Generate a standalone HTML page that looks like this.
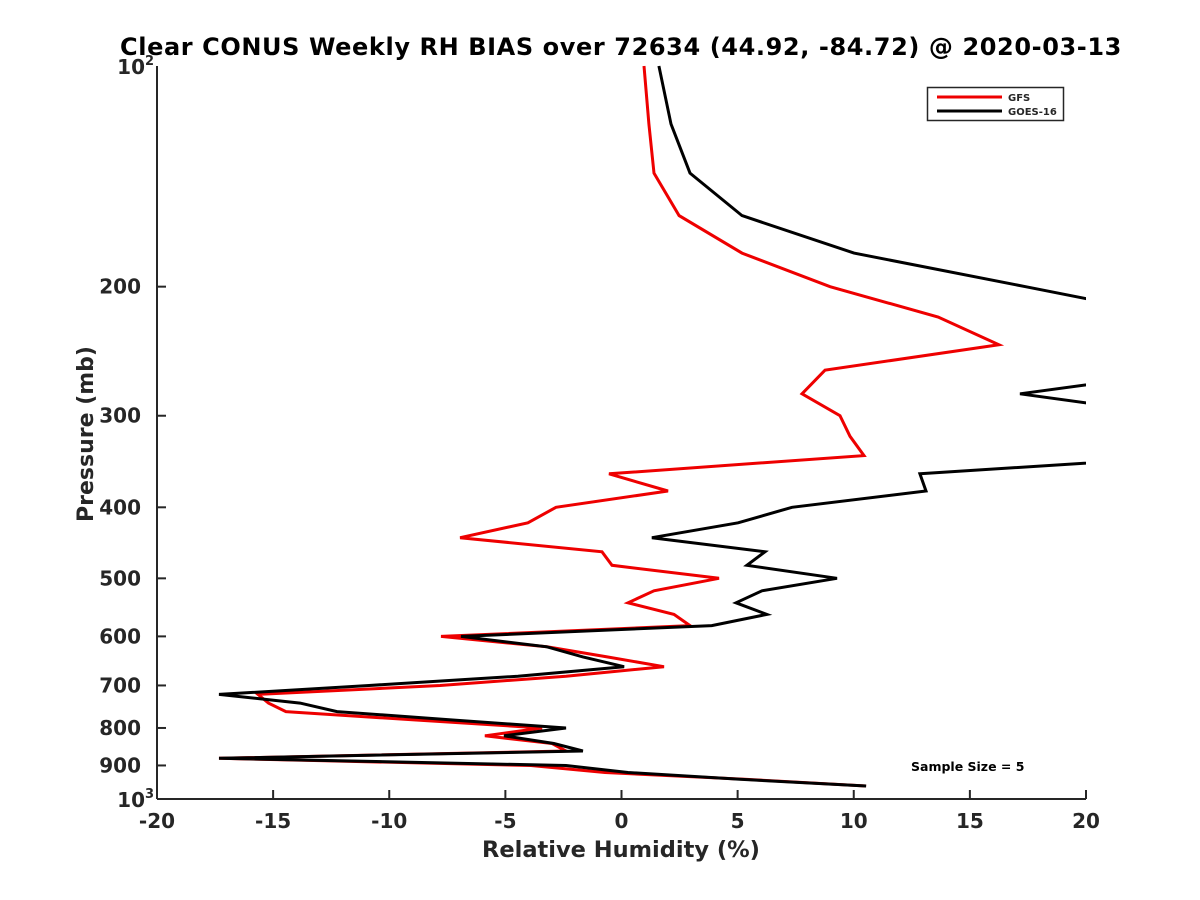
<!DOCTYPE html>
<html><head><meta charset="utf-8"><style>
body{margin:0;background:#fff}
svg{display:block;font-family:"DejaVu Sans","Liberation Sans",sans-serif;font-weight:bold}
</style></head><body>
<svg id="chart" width="1200" height="900" viewBox="0 0 1200 900">
<defs><clipPath id="plotclip"><rect x="157" y="60" width="929" height="745"/></clipPath></defs>
<text x="621" y="55" text-anchor="middle" font-size="24" letter-spacing="0.6" fill="#000">Clear CONUS Weekly RH BIAS over 72634 (44.92, -84.72) @ 2020-03-13</text>
<g id="axes"></g>
<g id="series" clip-path="url(#plotclip)"></g>
<text x="621" y="857" text-anchor="middle" font-size="22.5" fill="#262626">Relative Humidity (%)</text>
<text transform="translate(93,434) rotate(-90)" text-anchor="middle" font-size="22" fill="#262626">Pressure (mb)</text>
<g>
<rect x="927.5" y="87.5" width="136" height="33" fill="#fff" stroke="#262626" stroke-width="1.5"/>
<line x1="937" y1="97" x2="1002" y2="97" stroke="#ee0000" stroke-width="3"/>
<text x="1008" y="101" font-size="10" fill="#262626">GFS</text>
<line x1="937" y1="111" x2="1002" y2="111" stroke="#000" stroke-width="3"/>
<text x="1008" y="115" font-size="10" fill="#262626">GOES-16</text>
</g>
<text x="911" y="771" font-size="12.5" fill="#000">Sample Size = 5</text>
</svg>
<script>
const pressures=[100,120,140,160,180,200,220,240,260,280,300,320,340,360,380,400,420,440,460,480,500,520,540,560,580,600,620,640,660,680,700,720,740,760,780,800,820,840,860,880,900,920,940,960];
const gfsBias=[0.97,1.18,1.40,2.48,5.19,8.98,13.63,16.25,8.76,7.77,9.41,9.84,10.44,-0.54,2.0,-2.82,-4.03,-6.95,-0.84,-0.41,4.2,1.40,0.28,2.26,2.95,-7.77,-3.21,-0.62,1.83,-2.39,-7.81,-15.65,-15.2,-14.45,-8.93,-3.42,-5.88,-2.99,-2.39,-17.33,-3.9,-0.71,5.3,10.53];
const goesBias=[1.61,2.13,2.95,5.19,10.01,17.4,24,26,24.7,17.16,24,26,25,12.85,13.11,7.34,5.02,1.31,6.18,5.4,9.28,6.05,4.93,6.26,3.89,-6.91,-3.21,-1.66,0.11,-4.46,-10.87,-17.33,-13.84,-12.25,-7.34,-2.39,-5.06,-2.91,-1.66,-17.33,-2.39,0.28,5.1,10.53];
const xTicks=[-20,-15,-10,-5,0,5,10,15,20];
const yTicks=[200,300,400,500,600,700,800,900];
const NS='http://www.w3.org/2000/svg';
const X0=157,X1=1086,Y0=66,Y1=799;
function xs(v){return X0+(v+20)/40*(X1-X0);}
function ys(p){return Y0+(Y1-Y0)*Math.log10(p/100);}
function mk(tag,attrs,parent){const e=document.createElementNS(NS,tag);for(const k in attrs)e.setAttribute(k,attrs[k]);parent.appendChild(e);return e;}
const axes=document.getElementById('axes');
const ax=mk('line',{x1:X0,y1:Y1,x2:X1,y2:Y1,stroke:'#262626','stroke-width':2},axes);


const ay=mk('line',{x1:X0,y1:Y0,x2:X0,y2:Y1,stroke:'#262626','stroke-width':2},axes);


xTicks.forEach(t=>{
  const l=mk('line',{x1:xs(t),y1:Y1,x2:xs(t),y2:Y1-9,stroke:'#262626','stroke-width':2},axes);
  
  
  const tx=mk('text',{x:xs(t),y:Y1+29,'text-anchor':'middle','font-size':20,fill:'#262626'},axes);
  tx.textContent=String(t);
  
  
});
yTicks.forEach(t=>{
  const l=mk('line',{x1:X0,y1:ys(t),x2:X0+9,y2:ys(t),stroke:'#262626','stroke-width':2},axes);
  
  
  const tx=mk('text',{x:X0-16,y:ys(t)+7,'text-anchor':'end','font-size':20,fill:'#262626'},axes);
  tx.textContent=String(t);
  
  
});
[[100,'2'],[1000,'3']].forEach(([p,e])=>{
  const tx=mk('text',{x:X0-12,y:ys(p)+8,'text-anchor':'end','font-size':20,fill:'#262626'},axes);
  tx.textContent='10';
  
  
  const sup=mk('text',{x:X0-3,y:ys(p)-1,'text-anchor':'end','font-size':13,fill:'#262626'},axes);
  sup.textContent=e;
  
  
});
const ser=document.getElementById('series');
function line(vals,color,name){
  const pts=vals.map((v,i)=>xs(v).toFixed(1)+','+ys(pressures[i]).toFixed(1)).join(' ');
  const pl=mk('polyline',{points:pts,fill:'none',stroke:color,'stroke-width':3,'stroke-linejoin':'miter','stroke-miterlimit':4},ser);
  
  
}
line(gfsBias,'#ee0000','gfs-line');
line(goesBias,'#000000','goes16-line');
</script>
</body></html>
